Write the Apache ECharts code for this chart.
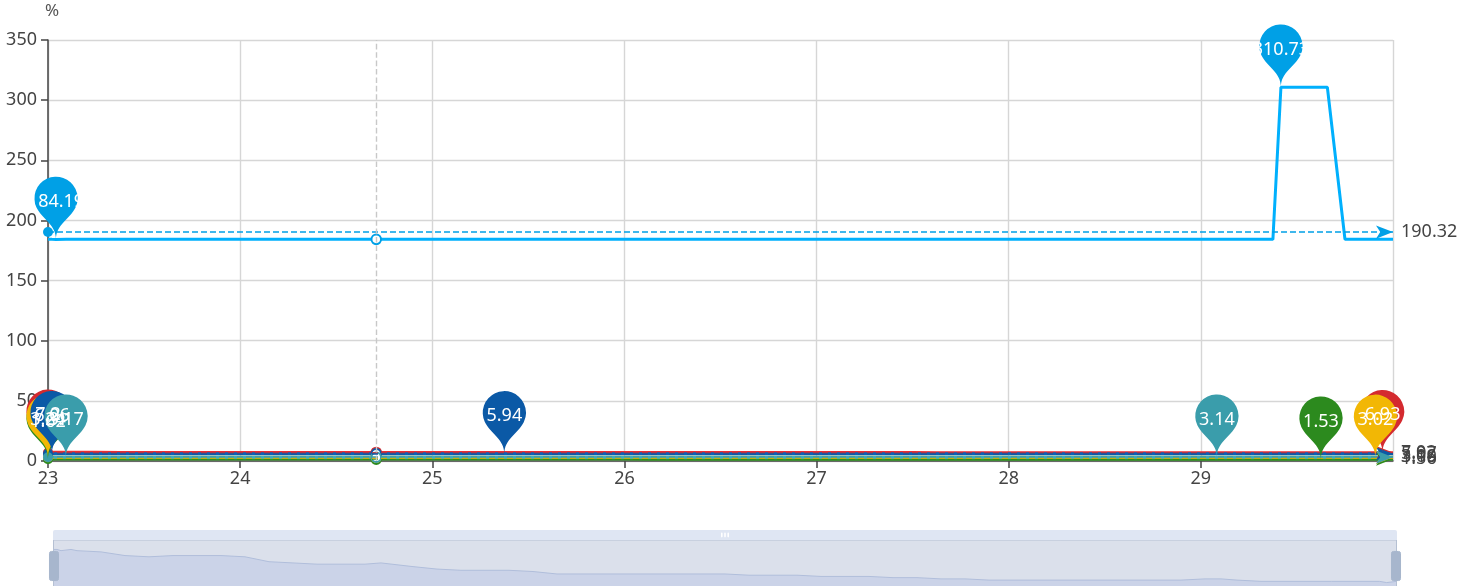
<!DOCTYPE html>
<html><head><meta charset="utf-8">
<script src="https://cdn.jsdelivr.net/npm/echarts@6/dist/echarts.min.js"></script>
<style>html,body{margin:0;padding:0;background:#fff}#c{width:1477px;height:586px}</style>
</head><body><div id="c"></div>
<script>
// hours after 23 00:00 of the shown week
const hours = [0,0.5,1,2.25,3,6,9,12,15,18,21,24,27,30,33,36,39,41,45,48,51,54,57,60,63,66,69,72,75,78,81,84,87,90,93,96,99,102,105,108,111,114,117,120,123,126,129,132,135,138,141,144,146,148,151,153,154,159,159.8,162,165.8,166.7,168];

const seriesNames = ['S1','S2','S3','S4','S5','S6'];
const seriesColors = ['#d42a2f','#2c8a1e','#f2b705','#0b59a6','#3a9dab','#00a0e6'];

const redValues = [7.20,7.20,7.19,7.20,
 7.19,7.18,7.15,7.14,7.15,7.15,7.15,7.14,7.10,7.09,7.08,7.08,7.08,
 7.09,
 7.06,7.04,7.03,7.03,7.03,7.02,7.00,7.00,7.00,7.00,7.00,7.00,7.00,7.00,6.99,6.99,6.99,6.98,6.98,6.98,6.97,6.97,6.96,6.96,6.95,6.95,6.95,6.95,6.95,6.95,6.95,6.95,6.95,6.96,
 6.96,6.95,6.94,6.94,6.94,6.94,6.94,6.94,6.94,6.93,6.94];

const greenValues = [1.62,1.61,1.61,1.60,
 1.60,1.60,1.59,1.59,1.59,1.58,1.58,1.58,1.58,1.57,1.57,1.57,1.57,
 1.57,
 1.56,1.56,1.56,1.56,1.56,1.56,1.56,1.56,1.56,1.56,1.55,1.55,1.55,1.55,1.55,1.55,1.55,1.55,1.55,1.55,1.55,1.55,1.54,1.54,1.54,1.54,1.54,1.54,1.54,1.54,1.54,1.54,1.54,1.54,
 1.54,1.54,1.54,1.54,1.54,1.53,1.54,1.54,1.54,1.54,1.54];

const yellowValues = [3.24,3.23,3.22,3.22,
 3.21,3.20,3.19,3.18,3.18,3.17,3.16,3.15,3.15,3.14,3.13,3.12,3.12,
 3.11,
 3.11,3.10,3.10,3.09,3.09,3.08,3.08,3.08,3.07,3.07,3.07,3.06,3.06,3.06,3.06,3.05,3.05,3.05,3.05,3.05,3.04,3.04,3.04,3.04,3.04,3.04,3.04,3.03,3.03,3.03,3.03,3.03,3.03,3.03,
 3.03,3.03,3.03,3.03,3.03,3.03,3.03,3.03,3.02,3.03,3.03];

const darkBlueValues = [6.04,6.06,6.05,6.04,
 6.03,6.02,6.01,6.00,6.00,5.99,5.99,5.98,5.98,5.97,5.97,5.96,5.96,
 5.96,
 5.95,5.95,5.95,5.95,5.94,5.95,5.95,5.96,5.95,5.96,5.96,5.95,5.96,5.96,5.96,5.95,5.96,5.96,5.96,5.96,5.95,5.96,5.96,5.96,5.96,5.96,5.95,5.96,5.96,5.96,5.96,5.96,5.96,5.96,
 5.96,5.96,5.96,5.95,5.96,5.96,5.96,5.96,5.96,5.96,5.96];

const tealValues = [3.16,3.16,3.16,3.17,
 3.16,3.16,3.16,3.16,3.16,3.16,3.16,3.16,3.15,3.16,3.16,3.16,3.16,
 3.16,
 3.16,3.16,3.16,3.16,3.16,3.16,3.16,3.16,3.16,3.16,3.16,3.16,3.16,3.16,3.16,3.16,3.15,3.15,3.15,3.16,3.15,3.15,3.15,3.15,3.15,3.15,3.15,3.15,3.15,3.15,3.15,3.15,3.15,3.15,
 3.14,3.15,3.15,3.15,3.15,3.15,3.15,3.15,3.15,3.15,3.15];

const lightBlueValues = [184.42,184.28,184.19,184.32,
 184.32,184.30,184.28,184.31,184.33,184.30,184.27,184.29,184.31,184.34,184.30,184.28,
 184.26,184.29,184.32,184.30,184.28,184.31,184.33,184.30,184.27,184.29,184.31,184.30,
 184.28,184.32,184.30,184.29,184.27,184.31,184.33,184.30,184.28,184.30,184.32,184.29,
 184.31,184.28,184.30,184.33,184.29,184.27,184.30,184.31,184.32,184.29,184.30,184.28,
 184.30,184.31,184.29,184.30,310.73,310.73,310.73,184.32,184.30,184.28,184.30];

const yTicks = {min: 0, max: 350, interval: 50};
const unitName = '%';

const allValues = [redValues, greenValues, yellowValues, darkBlueValues, tealValues, lightBlueValues];
const base = new Date(2023, 4, 23, 0, 0, 0).getTime();
const times = hours.map(h => base + h * 3600000);

const FONT = 'Noto Sans';
const chart = echarts.init(document.getElementById('c'), null, {renderer: 'canvas'});

const series = allValues.map((vals, i) => ({
  name: seriesNames[i],
  type: 'line',
  data: vals.map((v, j) => [times[j], v]),
  showSymbol: false,
  symbol: 'emptyCircle',
  symbolSize: 8,
  color: seriesColors[i],
  lineStyle: {width: 3, color: seriesColors[i]},
  itemStyle: {color: seriesColors[i], borderWidth: 2},
  emphasis: {scale: 1.2, focus: 'none', lineStyle: {width: 3}},
  markPoint: {
    symbol: 'pin',
    symbolSize: 72,
    data: [{type: 'max'}, {type: 'min'}],
    itemStyle: {color: seriesColors[i]},
    label: {color: '#fff', fontSize: 18, fontFamily: FONT}
  },
  markLine: {
    silent: true,
    symbol: ['circle', 'arrow'],
    symbolSize: [10, 17],
    precision: 2,
    data: [{type: 'average'}],
    lineStyle: {type: 'dashed', width: 1.5, color: seriesColors[i]},
    label: {position: 'end', fontSize: 18, color: '#444', fontFamily: FONT, distance: 8}
  }
}));

chart.setOption({
  animation: false,
  grid: {left: 48, right: 84, top: 40, bottom: 125, containLabel: false, outerBoundsMode: 'none'},
  tooltip: {trigger: 'axis', showContent: false,
    axisPointer: {type: 'line', lineStyle: {color: '#c8c8c8', width: 1.4, type: 'dashed'}}},
  xAxis: {
    type: 'time',
    min: times[0], max: times[times.length - 1],
    axisLine: {show: true, lineStyle: {color: '#444', width: 1.5}},
    axisTick: {show: true, length: 7, lineStyle: {color: '#444', width: 1.5}},
    axisLabel: {fontSize: 18, color: '#444', fontFamily: FONT, margin: 9, showMaxLabel: false,
      formatter: val => String(new Date(val).getDate())},
    splitLine: {show: true, lineStyle: {color: '#d6d6d6', width: 1.4}}
  },
  yAxis: {
    type: 'value', min: yTicks.min, max: yTicks.max, interval: yTicks.interval,
    name: unitName, nameGap: 16, nameTextStyle: {fontSize: 17, color: '#555', fontFamily: FONT, align: 'center', padding: [0, 0, 4, 8]},
    axisLine: {show: true, lineStyle: {color: '#444', width: 1.5}},
    axisTick: {show: true, length: 7, lineStyle: {color: '#444', width: 1.5}},
    axisLabel: {fontSize: 18, color: '#444', fontFamily: FONT, margin: 11},
    splitLine: {show: true, lineStyle: {color: '#d6d6d6', width: 1.4}}
  },
  dataZoom: [
    {type: 'inside', start: 0, end: 100},
    {type: 'slider', start: 0, end: 100, left: 49, right: 84, bottom: 3, height: 53,
     showDetail: false, moveHandleSize: 10,
     backgroundColor: '#e2e6ee', borderColor: '#b5c0d3', fillerColor: 'rgba(200,208,226,0.25)',
     moveHandleStyle: {color: '#dfe6f3', opacity: 1},
     handleIcon: 'path://M2,0h5a2,2,0,0,1,2,2v25a2,2,0,0,1-2,2h-5a2,2,0,0,1-2-2v-25a2,2,0,0,1,2-2z',
     handleSize: '55%',
     handleStyle: {color: '#a7b6cd', borderColor: '#a7b6cd', borderWidth: 1},
     dataBackground: {lineStyle: {color: '#a9b8d8', width: 1}, areaStyle: {color: '#ccd5ea', opacity: 1}},
     selectedDataBackground: {lineStyle: {color: '#a9b8d8', width: 1}, areaStyle: {color: '#ccd5ea', opacity: 1}}
    }
  ],
  series: series
});

chart.dispatchAction({type: 'showTip', x: 377, y: 300});
</script>
</body></html>
